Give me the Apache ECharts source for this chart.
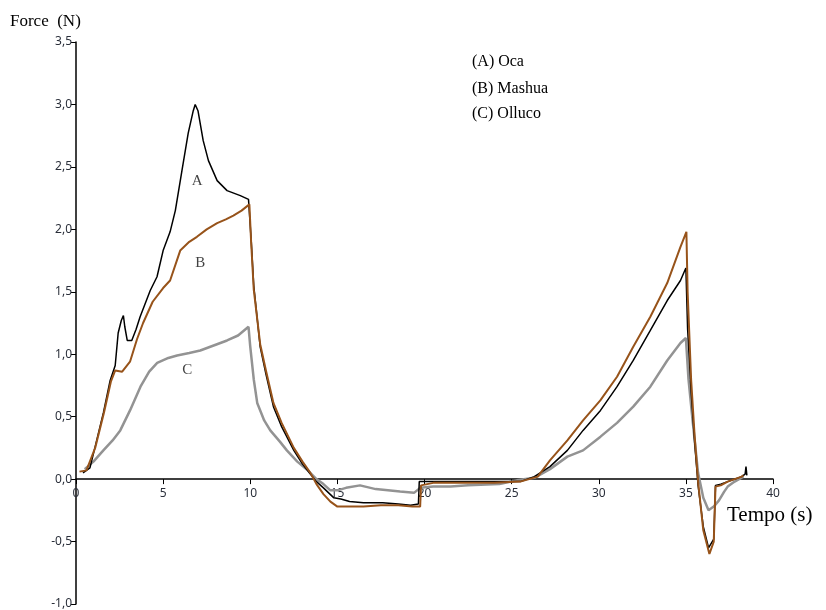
<!DOCTYPE html>
<html><head><meta charset="utf-8">
<script src="https://cdn.jsdelivr.net/npm/echarts@6/dist/echarts.min.js"></script>
<style>html,body{margin:0;padding:0;background:#fff;overflow:hidden}#c{width:826px;height:610px}</style>
</head><body><div id="c"></div>
<script>
var xTicks = [0,5,10,15,20,25,30,35,40];
var yTicks = [-1.0,-0.5,0,0.5,1.0,1.5,2.0,2.5,3.0,3.5];
var legendLines = ["(A) Oca","(B) Mashua","(C) Olluco"];
var curveLabels = [[6.96,2.39,"A"],[7.13,1.73,"B"],[6.38,0.87,"C"]];

var oca = [[0.4,0.05],[0.8,0.09],[1.1,0.26],[1.57,0.53],[1.96,0.79],[2.25,0.91],[2.42,1.17],[2.6,1.27],[2.72,1.31],[2.8,1.22],[2.94,1.11],[3.2,1.11],[3.45,1.2],[3.68,1.3],[4.26,1.51],[4.65,1.62],[5.0,1.83],[5.4,1.98],[5.7,2.15],[6.08,2.47],[6.44,2.77],[6.73,2.95],[6.84,3.0],[7.0,2.95],[7.3,2.71],[7.6,2.55],[8.1,2.39],[8.67,2.31],[9.43,2.27],[9.9,2.24],[10.0,2.25],[10.06,1.9],[10.2,1.55],[10.57,1.06],[10.9,0.84],[11.33,0.58],[11.8,0.42],[12.5,0.23],[13.0,0.12],[13.45,0.04],[13.8,-0.02],[14.2,-0.07],[14.8,-0.15],[15.2,-0.16],[15.7,-0.18],[16.5,-0.19],[17.6,-0.19],[18.5,-0.2],[19.2,-0.21],[19.65,-0.2],[19.7,-0.02],[20.5,-0.02],[22.0,-0.02],[24.0,-0.02],[25.5,-0.02],[26.3,0.02],[27.2,0.1],[28.2,0.23],[29.1,0.39],[30.1,0.55],[31.05,0.74],[31.98,0.95],[32.96,1.19],[33.93,1.43],[34.69,1.59],[35.0,1.69],[35.1,1.2],[35.3,0.7],[35.5,0.3],[35.7,-0.05],[36.0,-0.38],[36.3,-0.55],[36.6,-0.48],[36.7,-0.05],[37.0,-0.04],[37.4,-0.02],[37.8,0.0],[38.2,0.02],[38.4,0.04],[38.45,0.1],[38.5,0.03]];

var mashua = [[0.2,0.06],[0.6,0.07],[1.1,0.25],[1.6,0.53],[2.0,0.78],[2.25,0.87],[2.65,0.86],[3.1,0.94],[3.5,1.12],[3.85,1.25],[4.4,1.42],[5.0,1.53],[5.4,1.59],[5.98,1.83],[6.5,1.9],[6.94,1.94],[7.5,2.0],[8.1,2.05],[8.6,2.08],[9.03,2.11],[9.5,2.15],[9.95,2.2],[10.05,1.9],[10.2,1.52],[10.57,1.08],[10.9,0.87],[11.33,0.61],[11.8,0.45],[12.5,0.25],[13.0,0.14],[13.45,0.05],[13.8,-0.04],[14.2,-0.12],[14.6,-0.18],[15.0,-0.22],[15.5,-0.22],[16.5,-0.22],[17.5,-0.21],[18.5,-0.21],[19.3,-0.22],[19.75,-0.22],[19.8,-0.05],[20.5,-0.03],[22.0,-0.03],[24.0,-0.03],[25.5,-0.02],[26.5,0.02],[27.2,0.15],[28.2,0.31],[29.1,0.47],[30.09,0.63],[31.05,0.82],[31.98,1.06],[32.96,1.3],[33.93,1.57],[34.69,1.86],[35.03,1.98],[35.1,1.5],[35.3,0.8],[35.5,0.35],[35.7,-0.02],[36.0,-0.41],[36.35,-0.6],[36.6,-0.5],[36.7,-0.06],[37.0,-0.05],[37.4,-0.02],[37.8,0.0],[38.2,0.02],[38.3,0.03]];

var olluco = [[0.5,0.08],[1.0,0.14],[1.57,0.23],[2.1,0.31],[2.54,0.39],[3.1,0.55],[3.7,0.74],[4.2,0.86],[4.66,0.93],[5.3,0.97],[5.8,0.99],[6.5,1.01],[7.13,1.03],[7.9,1.07],[8.67,1.11],[9.3,1.15],[9.9,1.22],[10.0,1.06],[10.2,0.8],[10.4,0.61],[10.8,0.47],[11.15,0.39],[11.7,0.3],[12.1,0.23],[12.7,0.14],[13.3,0.07],[13.8,0.0],[14.2,-0.04],[14.6,-0.09],[15.0,-0.09],[15.5,-0.07],[16.3,-0.05],[17.2,-0.08],[18.6,-0.1],[19.4,-0.11],[19.75,-0.07],[20.5,-0.06],[21.5,-0.06],[22.5,-0.05],[24.3,-0.04],[25.3,-0.01],[26.3,0.01],[27.2,0.08],[28.2,0.18],[29.1,0.23],[30.1,0.34],[31.05,0.45],[31.98,0.58],[32.96,0.74],[33.93,0.95],[34.69,1.09],[35.0,1.13],[35.15,0.8],[35.4,0.45],[35.7,0.05],[36.0,-0.15],[36.3,-0.25],[36.6,-0.22],[36.9,-0.17],[37.2,-0.1],[37.4,-0.06],[37.8,-0.02],[38.3,0.02]];

var el = document.getElementById('c');
var chart = echarts.init(el, null, {renderer:'canvas', width:826, height:610});
var gridTop = 42, gridBottom = 6;
var gridH = 610 - gridTop - gridBottom;
var yMin = yTicks[0], yMax = yTicks[yTicks.length-1];
var zeroOffset = -gridH * (0 - yMin) / (yMax - yMin);
var fmt = function(v){ return (Math.round(v*10)/10).toFixed(1).replace('.', ','); };
var tickFont = {color:'#2a2f3a', fontFamily:'Noto Sans', fontSize:12};
var axisLineStyle = {color:'#000', width:1.5};
chart.setOption({
  animation:false,
  grid:{left:76, right:53, top:gridTop, bottom:gridBottom, containLabel:false},
  xAxis:{type:'value', min:xTicks[0], max:xTicks[xTicks.length-1], interval:5,
    position:'bottom', offset:zeroOffset,
    axisLine:{onZero:false, lineStyle:axisLineStyle},
    axisTick:{show:true, length:5, inside:false, lineStyle:{color:'#000', width:1}},
    axisLabel:Object.assign({margin:8, formatter:function(v){return String(v);}}, tickFont),
    splitLine:{show:false}},
  yAxis:{type:'value', min:yMin, max:yMax, interval:0.5,
    axisLine:{show:true, onZero:false, lineStyle:axisLineStyle},
    axisTick:{show:true, length:5, lineStyle:{color:'#000', width:1}},
    axisLabel:Object.assign({margin:4, formatter:fmt}, tickFont),
    splitLine:{show:false}},
  series:[
    {name:'(C) Olluco', type:'line', data:olluco, showSymbol:false, symbol:'none', lineStyle:{color:'#939393', width:2.5}, z:2},
    {name:'(A) Oca', type:'line', data:oca, showSymbol:false, symbol:'none', lineStyle:{color:'#000000', width:1.5}, z:3},
    {name:'(B) Mashua', type:'line', data:mashua, showSymbol:false, symbol:'none', lineStyle:{color:'#97531a', width:2}, z:4},
    {type:'scatter', data:curveLabels.map(function(d){return {value:[d[0],d[1]], name:d[2]};}),
      symbolSize:2, itemStyle:{color:'rgba(0,0,0,0)'}, z:5, silent:true,
      label:{show:true, position:'inside', formatter:'{b}', color:'#111', fontFamily:'Liberation Serif', fontSize:15}}
  ],
  graphic:[
    {type:'text', left:10, top:13, style:{text:'Force  (N)', fill:'#000', font:'17px "Liberation Serif"'}},
    {type:'text', left:727, top:505, style:{text:'Tempo (s)', fill:'#000', font:'21px "Liberation Serif"'}},
    {type:'text', left:472, top:54, style:{text:legendLines[0], fill:'#000', font:'16px "Liberation Serif"'}},
    {type:'text', left:472, top:81, style:{text:legendLines[1], fill:'#000', font:'16px "Liberation Serif"'}},
    {type:'text', left:472, top:106, style:{text:legendLines[2], fill:'#000', font:'16px "Liberation Serif"'}}
  ]
});
</script></body></html>
